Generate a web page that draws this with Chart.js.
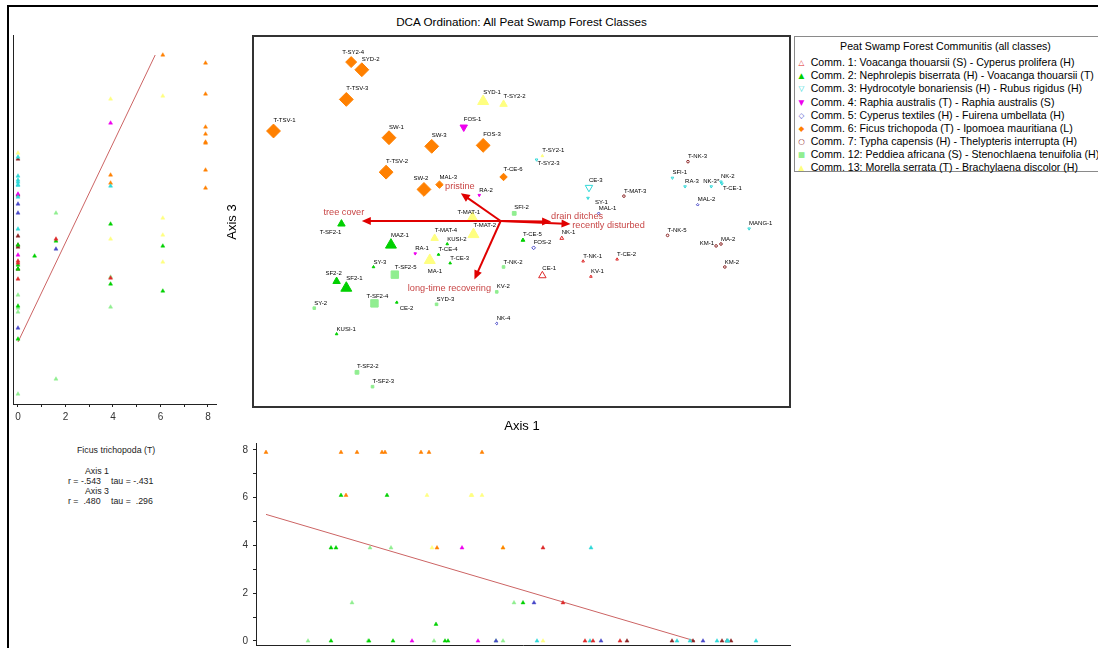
<!DOCTYPE html>
<html>
<head>
<meta charset="utf-8">
<script src="https://cdn.jsdelivr.net/npm/chart.js@4.4.1/dist/chart.umd.min.js"></script>
<style>
  body { margin: 0; width: 1098px; height: 648px; overflow: hidden; background: #fff; position: relative;
         font-family: Arial, "Liberation Sans", sans-serif; color: #000; }
  .abs { position: absolute; }
  #frame { left: 7px; top: 5px; width: 1200px; height: 700px; border-top: 2px solid #000; border-left: 2px solid #000; }
  #title { left: 253px; top: 15px; width: 537px; line-height: 14px; text-align: center; font-size: 11.7px; }
  #ax3 { left: 202px; top: 214px; width: 60px; line-height: 16px; text-align: center; font-size: 13px; transform: rotate(-90deg); }
  #ax1 { left: 492px; top: 418px; width: 60px; line-height: 16px; text-align: center; font-size: 13px; }
  #legend { left: 794px; top: 36px; width: 303px; height: 134px; border: 1px solid #8a8a8a; font-size: 10.6px; }
  #legend div { position: absolute; white-space: nowrap; line-height: 13px; }
  .stat { position: absolute; white-space: pre; font-size: 8.8px; line-height: 10px; color: #222; }
</style>
</head>
<body>
<div id="frame" class="abs"></div>
<div id="title" class="abs">DCA Ordination: All Peat Swamp Forest Classes</div>
<canvas id="side" class="abs" width="240" height="440" style="left:0;top:0"></canvas>
<canvas id="ord" class="abs" width="539" height="373" style="left:252px;top:35px"></canvas>
<canvas id="base" class="abs" width="610" height="230" style="left:190px;top:430px"></canvas>
<div id="ax3" class="abs">Axis 3</div>
<div id="ax1" class="abs">Axis 1</div>
<div id="legend" class="abs"></div>
<div class="stat" style="left:77px;top:445px">Ficus trichopoda (T)</div>
<div class="stat" style="left:85px;top:466px">Axis 1</div>
<div class="stat" style="left:68px;top:476px">r = -.543</div>
<div class="stat" style="left:111px;top:476px">tau = -.431</div>
<div class="stat" style="left:85px;top:486px">Axis 3</div>
<div class="stat" style="left:68px;top:496px">r =  .480</div>
<div class="stat" style="left:111px;top:496px">tau =  .296</div>

<script>
// communities
const commIds = [1, 2, 3, 4, 5, 6, 7, 12, 13];
const commNames = [
  'Comm. 1: Voacanga thouarsii (S) - Cyperus prolifera (H)',
  'Comm. 2: Nephrolepis biserrata (H) - Voacanga thouarsii (T)',
  'Comm. 3: Hydrocotyle bonariensis (H) - Rubus rigidus (H)',
  'Comm. 4: Raphia australis (T) - Raphia australis (S)',
  'Comm. 5: Cyperus textiles (H) - Fuirena umbellata (H)',
  'Comm. 6: Ficus trichopoda (T) - Ipomoea mauritiana (L)',
  'Comm. 7: Typha capensis (H) - Thelypteris interrupta (H)',
  'Comm. 12: Peddiea africana (S) - Stenochlaena tenuifolia (H)',
  'Comm. 13: Morella serrata (T) - Brachylaena discolor (H)'
];

// sites
const siteLabels = [
  'NK-1', 'CE-1', 'T-NK-1', 'KV-1', 'T-CE-2',
  'T-SF2-1', 'MAZ-1', 'SF2-2', 'SF2-1', 'T-CE-4', 'T-CE-5', 'SY-3', 'CE-2', 'KUSI-2', 'T-CE-3', 'KUSI-1',
  'CE-3', 'SY-1', 'T-SY2-3', 'SFI-1', 'RA-3', 'NK-3*', 'NK-2', 'T-CE-1', 'MANG-1',
  'FOS-1', 'RA-2', 'RA-1',
  'FOS-2', 'MAL-1', 'MAL-2', 'NK-4',
  'T-SY2-4', 'SYD-2', 'T-TSV-3', 'T-TSV-1', 'SW-1', 'SW-3', 'FOS-3', 'T-TSV-2', 'SW-2', 'MAL-3', 'T-CE-6',
  'T-MAT-3', 'T-NK-3', 'T-NK-5', 'KM-1', 'MA-2', 'KM-2',
  'SFI-2', 'T-SF2-5', 'T-SF2-4', 'T-SF2-2', 'T-SF2-3', 'SY-2', 'SYD-3', 'T-NK-2', 'KV-2',
  'SYD-1', 'T-SY2-2', 'T-MAT-1', 'T-MAT-2', 'T-MAT-4', 'MA-1', 'T-SY2-1'
];
const siteComm = [
  1, 1, 1, 1, 1,
  2, 2, 2, 2, 2, 2, 2, 2, 2, 2, 2,
  3, 3, 3, 3, 3, 3, 3, 3, 3,
  4, 4, 4,
  5, 5, 5, 5,
  6, 6, 6, 6, 6, 6, 6, 6, 6, 6, 6,
  7, 7, 7, 7, 7, 7,
  12, 12, 12, 12, 12, 12, 12, 12, 12,
  13, 13, 13, 13, 13, 13, 13
];
const axis1 = [
  3.10, 2.90, 3.32, 3.40, 3.67,
  0.83, 1.34, 0.78, 0.88, 1.83, 2.70, 1.16, 1.40, 1.92, 1.95, 0.78,
  3.38, 3.37, 2.84, 4.24, 4.37, 4.64, 4.74, 4.75, 5.03,
  2.09, 2.25, 1.59,
  2.81, 3.48, 4.50, 2.43,
  0.93, 1.04, 0.88, 0.13, 1.32, 1.76, 2.29, 1.29, 1.68, 1.84, 2.50,
  3.74, 4.40, 4.19, 4.69, 4.74, 4.78,
  2.61, 1.38, 1.17, 0.99, 1.15, 0.55, 1.81, 2.50, 2.43,
  2.29, 2.50, 2.18, 2.19, 1.79, 1.74, 2.90
];
const axis3 = [
  1.68, 1.29, 1.44, 1.28, 1.46,
  1.83, 1.61, 1.23, 1.16, 1.51, 1.66, 1.38, 1.01, 1.62, 1.42, 0.68,
  2.21, 2.10, 2.50, 2.31, 2.22, 2.22, 2.27, 2.25, 1.78,
  2.84, 2.13, 1.52,
  1.58, 1.94, 2.03, 0.79,
  3.52, 3.44, 3.13, 2.80, 2.73, 2.64, 2.65, 2.37, 2.19, 2.24, 2.32,
  2.12, 2.48, 1.71, 1.60, 1.62, 1.38,
  1.94, 1.30, 1.00, 0.28, 0.13, 0.95, 0.99, 1.38, 1.12,
  3.11, 3.08, 1.89, 1.72, 1.68, 1.45, 2.54
];
// Ficus trichopoda abundance per site
const ficus = [
  1.6, 3.9, 0, 0, 0,
  3.9, 6.1, 3.9, 6.1, 0.7, 1.6, 0, 0, 0, 0, 0,
  3.9, 0, 0, 0, 0, 0, 0, 0, 0,
  3.9, 0, 0,
  1.6, 0, 0, 0,
  6.1, 7.9, 7.9, 7.9, 7.9, 7.9, 7.9, 7.9, 7.9, 3.9, 3.9,
  0, 0, 0, 0, 0, 0,
  1.6, 3.9, 3.9, 1.6, 0, 0, 0, 0, 0,
  6.1, 3.9, 6.1, 6.1, 3.9, 6.1, 0
];

// environmental vectors (biplot)
const vecOrigin = [2.47, 1.86];
const vecNames = ['tree cover', 'pristine', 'drain ditches', 'recently disturbed', 'long-time recovering'];
const vecX = [1.04, 2.06, 2.99, 3.19, 2.20];
const vecY = [1.86, 2.15, 1.855, 1.83, 1.25];

// regression lines of the two side panels
const sideFitX = [0, 5.78];
const sideFitY = [0.65, 3.52];
const baseFitX = [0.13, 4.42];
const baseFitY = [5.3, 0];

// styling
const commColors = ['#dd2a2a', '#00d000', '#2fd8d8', '#ee00ee', '#4848c8', '#ff8000', '#8b2525', '#90ee90', '#ffff80'];
const commStyles = ['triangle', 'triangle', 'triangle', 'triangle', 'rectRot', 'rectRot', 'circle', 'rect', 'triangle'];
const commRotation = [0, 0, 180, 180, 0, 0, 0, 0, 0];
const commFilled = [false, true, false, true, false, true, false, true, true];
const commGlyph = ['\u25B3', '\u25B2', '\u25BD', '\u25BC', '\u25C7', '\u25C6', '\u25CB', '\u25A0', '\u25B2'];
const vecTextShift = [[-18, -9], [-1, -7], [26, -5], [38, 2], [-25, 9]];
const labelNudge = {
  'T-SY2-4': { dx: 2, align: 'center' },
  'T-SY2-3': { dx: 1, dy: 4 },
  'SY-1': { dx: 7, dy: 4 },
  'NK-3*': { dx: -8 },
  'T-CE-1': { dx: 1, dy: 5 },
  'T-SF2-1': { dx: 0, dy: 8, align: 'right' },
  'T-MAT-1': { dx: -15, dy: -6 },
  'MA-1': { dx: -2, dy: 11 },
  'SF2-2': { dx: -3, align: 'center' },
  'T-SF2-4': { dx: 3, align: 'center' },
  'CE-2': { dx: 3, dy: 6 },
  'KM-1': { dx: -2, dy: -3, align: 'right' },
  'SW-2': { dx: -3, align: 'center' }
};

Chart.defaults.font.family = 'Arial, "Liberation Sans", sans-serif';
Chart.defaults.color = '#333';

function glyphWidth(ab) { return Math.max(2.6, 1.2 + 1.6 * ab); }
function glyphRadius(style, ab) {
  const w = glyphWidth(ab);
  if (style === 'triangle') return w / 1.732;
  if (style === 'rect') return w / 1.414;
  return w / 2;
}
function sitesOf(c) {
  return siteComm.map((v, i) => (v === c ? i : -1)).filter(i => i >= 0);
}
function oddBlank(v) { return Math.round(v) % 2 === 0 ? String(Math.round(v)) : ''; }

// ---- main ordination ----
const ordSets = commIds.map((c, k) => {
  const idx = sitesOf(c);
  return {
    label: commNames[k],
    data: idx.map(i => ({ x: axis1[i], y: axis3[i], site: i })),
    pointStyle: commStyles[k],
    pointRotation: commRotation[k],
    pointRadius: idx.map(i => glyphRadius(commStyles[k], ficus[i])),
    pointBackgroundColor: commFilled[k] ? commColors[k] : 'rgba(0,0,0,0)',
    pointBorderColor: commColors[k],
    pointBorderWidth: 1
  };
});

const biplot = {
  id: 'biplot',
  afterDatasetsDraw(chart) {
    const { ctx, scales: { x, y } } = chart;
    const ox = x.getPixelForValue(vecOrigin[0]);
    const oy = y.getPixelForValue(vecOrigin[1]);
    ctx.save();
    vecNames.forEach((name, k) => {
      const tx = x.getPixelForValue(vecX[k]);
      const ty = y.getPixelForValue(vecY[k]);
      const a = Math.atan2(ty - oy, tx - ox);
      const c = Math.cos(a), s = Math.sin(a);
      ctx.strokeStyle = '#e00000';
      ctx.fillStyle = '#e00000';
      ctx.lineWidth = 2;
      ctx.beginPath();
      ctx.moveTo(ox, oy);
      ctx.lineTo(tx - 6 * c, ty - 6 * s);
      ctx.stroke();
      ctx.beginPath();
      ctx.moveTo(tx, ty);
      ctx.lineTo(tx - 9 * c + 4 * s, ty - 9 * s - 4 * c);
      ctx.lineTo(tx - 9 * c - 4 * s, ty - 9 * s + 4 * c);
      ctx.closePath();
      ctx.fill();
      ctx.font = '9.2px Arial, "Liberation Sans", sans-serif';
      ctx.fillStyle = '#c84646';
      ctx.textAlign = 'center';
      ctx.textBaseline = 'middle';
      ctx.fillText(name, tx + vecTextShift[k][0], ty + vecTextShift[k][1]);
    });
    ctx.restore();
  }
};

const siteTags = {
  id: 'siteTags',
  afterDatasetsDraw(chart) {
    const ctx = chart.ctx;
    ctx.save();
    ctx.font = '6px Arial, "Liberation Sans", sans-serif';
    ctx.fillStyle = '#000';
    ctx.textBaseline = 'middle';
    chart.data.datasets.forEach((ds, d) => {
      chart.getDatasetMeta(d).data.forEach((pt, j) => {
        const i = ds.data[j].site;
        const n = labelNudge[siteLabels[i]] || {};
        const dy = n.dy !== undefined ? n.dy : -(glyphWidth(ficus[i]) / 2 + 3.8);
        ctx.textAlign = n.align || 'left';
        ctx.fillText(siteLabels[i], pt.x + (n.dx || 0), pt.y + dy);
      });
    });
    ctx.restore();
  }
};

const boxBorder = {
  id: 'boxBorder',
  afterDraw(chart) {
    const ctx = chart.ctx;
    ctx.save();
    ctx.strokeStyle = '#333';
    ctx.lineWidth = 2;
    ctx.strokeRect(1, 1, chart.width - 2, chart.height - 2);
    ctx.restore();
  }
};

new Chart(document.getElementById('ord'), {
  type: 'scatter',
  data: { datasets: ordSets },
  options: {
    responsive: false,
    animation: false,
    layout: { padding: 0 },
    plugins: { legend: { display: false }, tooltip: { enabled: false } },
    scales: {
      x: { type: 'linear', display: false, min: -0.01, max: 5.38 },
      y: { type: 'linear', display: false, min: -0.01, max: 3.72 }
    }
  },
  plugins: [biplot, siteTags, boxBorder]
});

// ---- side panel: abundance vs Axis 3 ----
const sideSets = commIds.map((c, k) => ({
  data: sitesOf(c).map(i => ({ x: ficus[i], y: axis3[i] })),
  pointStyle: 'triangle',
  pointRadius: 2.3,
  pointBackgroundColor: commColors[k],
  pointBorderColor: commColors[k],
  pointBorderWidth: 0.5
}));
sideSets.push({
  data: sideFitX.map((v, i) => ({ x: v, y: sideFitY[i] })),
  showLine: true, borderColor: '#cc6464', borderWidth: 1, pointRadius: 0
});

new Chart(document.getElementById('side'), {
  type: 'scatter',
  data: { datasets: sideSets },
  options: {
    responsive: false,
    animation: false,
    layout: { padding: { left: 13, top: 35, right: 24, bottom: 10 } },
    plugins: { legend: { display: false }, tooltip: { enabled: false } },
    scales: {
      x: {
        type: 'linear', min: -0.21, max: 8.34,
        afterFit: s => { s.height = 26; },
        grid: { drawOnChartArea: false, drawTicks: true, tickLength: 3, color: '#222' },
        border: { display: true, color: '#222', width: 1 },
        ticks: { stepSize: 1, includeBounds: false, autoSkip: false, maxRotation: 0, padding: 4,
                 color: '#333', font: { size: 10 }, callback: oddBlank }
      },
      y: {
        type: 'linear', min: 0.03, max: 3.72,
        afterFit: s => { s.width = 0; },
        grid: { display: false },
        border: { display: true, color: '#222', width: 1 },
        ticks: { display: false }
      }
    }
  }
});

// ---- base panel: Axis 1 vs abundance ----
const baseSets = commIds.map((c, k) => ({
  data: sitesOf(c).map(i => ({ x: axis1[i], y: ficus[i] })),
  pointStyle: 'triangle',
  pointRadius: 2.3,
  pointBackgroundColor: commColors[k],
  pointBorderColor: commColors[k],
  pointBorderWidth: 0.5
}));
baseSets.push({
  data: baseFitX.map((v, i) => ({ x: v, y: baseFitY[i] })),
  showLine: true, borderColor: '#cc6464', borderWidth: 1, pointRadius: 0
});

new Chart(document.getElementById('base'), {
  type: 'scatter',
  data: { datasets: baseSets },
  options: {
    responsive: false,
    animation: false,
    layout: { padding: { left: 10, top: 13, right: 10, bottom: 5 } },
    plugins: { legend: { display: false }, tooltip: { enabled: false } },
    scales: {
      x: {
        type: 'linear', min: 0.03, max: 5.37,
        afterFit: s => { s.height = 10; },
        grid: { display: false },
        border: { display: true, color: '#222', width: 1 },
        ticks: { display: false }
      },
      y: {
        type: 'linear', min: -0.17, max: 8.29,
        afterFit: s => { s.width = 56; },
        grid: { drawOnChartArea: false, drawTicks: true, tickLength: 3, color: '#222' },
        border: { display: true, color: '#222', width: 1 },
        ticks: { stepSize: 1, includeBounds: false, autoSkip: false, padding: 5,
                 color: '#333', font: { size: 10 }, callback: oddBlank }
      }
    }
  }
});

// ---- legend box ----
const legend = document.getElementById('legend');
const head = document.createElement('div');
head.textContent = 'Peat Swamp Forest Communitis (all classes)';
head.style.cssText = 'left:0;width:301px;top:3px;text-align:center;';
legend.appendChild(head);
commNames.forEach((name, k) => {
  const top = 19.2 + 13.1 * k;
  const g = document.createElement('div');
  g.textContent = commGlyph[k];
  g.style.cssText = 'left:2px;width:9px;text-align:center;font-family:"DejaVu Sans";font-size:7.5px;top:' + top + 'px;color:' + commColors[k] + ';';
  legend.appendChild(g);
  const t = document.createElement('div');
  t.textContent = name;
  t.style.cssText = 'left:15.7px;top:' + top + 'px;';
  legend.appendChild(t);
});
</script>
</body>
</html>
